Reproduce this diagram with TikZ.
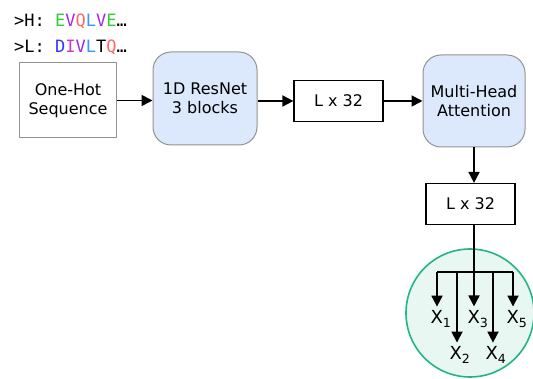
\documentclass[tikz,border=0pt]{standalone}
\usepackage{fontspec}
\setmainfont{DejaVu Sans}
\newfontfamily\seqfont{DejaVu Sans Mono}
\usetikzlibrary{arrows.meta, positioning, calc}
\definecolor{boxblue}{HTML}{DCE8FB}
\definecolor{ringgreen}{HTML}{20B486}
\definecolor{ringfill}{HTML}{E9F7F2}
\definecolor{aaE}{HTML}{33CC33}
\definecolor{aaV}{HTML}{A626E8}
\definecolor{aaQ}{HTML}{FF6666}
\definecolor{aaL}{HTML}{3399FF}
\definecolor{aaD}{HTML}{3333FF}
\definecolor{aaI}{HTML}{CC33CC}
\tikzstyle{plain} = [rectangle, draw=gray!85, line width=1pt, fill=white, align=center, font=\fontsize{16}{19}\selectfont]
\tikzstyle{netbox} = [rectangle, rounded corners=18pt, draw=gray!85, line width=1pt, fill=boxblue, align=center, font=\fontsize{16}{19}\selectfont]
\tikzstyle{dimbox} = [rectangle, draw=black, line width=1.2pt, fill=white, minimum width=89pt, minimum height=41pt, font=\fontsize{16}{19}\selectfont]
\tikzstyle{outvar} = [inner sep=0pt, font=\fontsize{18}{20}\selectfont]
\tikzstyle{arrow} = [line width=1.8pt, -{Triangle[length=11pt,width=11pt]}]

\begin{document}
\begin{tikzpicture}[x=1pt, y=-1pt]
\useasboundingbox (0,0) rectangle (533,379);

% Sequenzen
\node (seqh) [anchor=base west, inner sep=0pt, font=\fontsize{17}{20}\seqfont] at (14,27)
  {>H: \textcolor{aaE}{E}\textcolor{aaV}{V}\textcolor{aaQ}{Q}\textcolor{aaL}{L}\textcolor{aaV}{V}\textcolor{aaE}{E}…};
\node (seql) [anchor=base west, inner sep=0pt, font=\fontsize{17}{20}\seqfont] at (14,53)
  {>L: \textcolor{aaD}{D}\textcolor{aaI}{I}\textcolor{aaV}{V}\textcolor{aaL}{L}T\textcolor{aaQ}{Q}…};

% Blocchi
\node (onehot) [plain, minimum width=97pt, minimum height=75pt] at (68,100.5) {One-Hot\\Sequence};
\node (resnet) [netbox, minimum width=104pt, minimum height=93pt] at (205,98.5) {1D ResNet\\3 blocks};
\node (emb) [dimbox] at (338.5,101) {L x 32};
\node (mha) [netbox, minimum width=102pt, minimum height=92pt] at (474,101) {Multi-Head\\Attention};
\node (out) [dimbox] at (470.5,204) {L x 32};

% Uscite
\node (ring) [circle, draw=ringgreen, line width=1.6pt, fill=ringfill, minimum size=128pt] at (470,313) {};
\coordinate (split) at (474,272);
\coordinate (b1) at (437,272);
\coordinate (b2) at (457,272);
\coordinate (b3) at (474,272);
\coordinate (b4) at (493,272);
\coordinate (b5) at (513,272);
\node (x1) [outvar] at (441,319) {X\textsubscript{1}};
\node (x2) [outvar] at (460,355) {X\textsubscript{2}};
\node (x3) [outvar] at (478,319) {X\textsubscript{3}};
\node (x4) [outvar] at (496,355) {X\textsubscript{4}};
\node (x5) [outvar] at (517,319) {X\textsubscript{5}};

% Collegamenti
\draw [arrow] (onehot.east) -- (onehot.east -| resnet.west);
\draw [arrow] (resnet.east |- emb.west) -- (emb.west);
\draw [arrow] (emb) -- (mha);
\draw [arrow] (mha.south -| split) -- (out.north -| split);
\draw [line width=1.8pt] (out.south -| split) -- (split);
\draw [line width=1.8pt] (b1) -- (b5);
\draw [arrow] (b1) -- ($(b1 |- x1.north)+(0,-4)$);
\draw [arrow] (b2) -- ($(b2 |- x2.north)+(0,-4)$);
\draw [arrow] (b3) -- ($(b3 |- x3.north)+(0,-4)$);
\draw [arrow] (b4) -- ($(b4 |- x4.north)+(0,-4)$);
\draw [arrow] (b5) -- ($(b5 |- x5.north)+(0,-4)$);

\end{tikzpicture}
\end{document}
